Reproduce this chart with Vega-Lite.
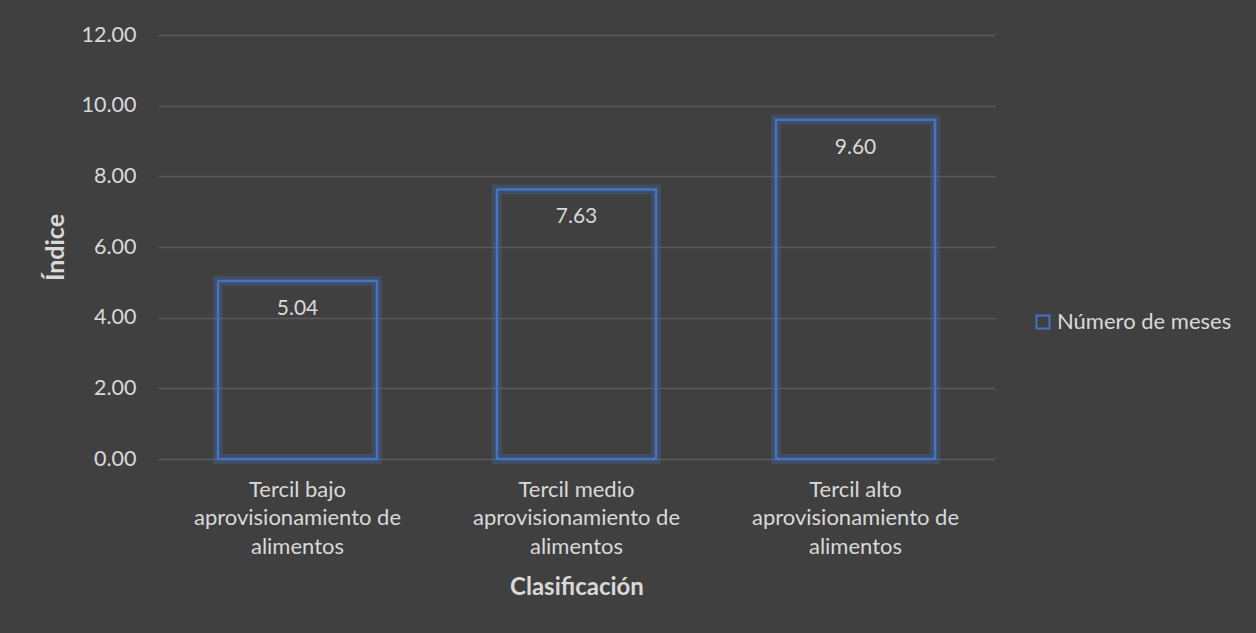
{
  "$schema": "https://vega.github.io/schema/vega-lite/v6.json",
  "width": 837,
  "height": 424,
  "autosize": {"type": "none"},
  "padding": {"left": 158, "top": 35, "right": 261, "bottom": 174},
  "background": "#404040",
  "config": {
    "view": {"stroke": null},
    "font": "Lato",
    "axis": {"labelColor": "#d9d9d9", "titleColor": "#d9d9d9", "labelFont": "Lato", "titleFont": "Lato"},
    "legend": {"labelColor": "#d9d9d9", "labelFont": "Lato"}
  },
  "data": {
    "values": [
      {"cat": "Tercil bajo aprovisionamiento de alimentos", "value": 5.04, "serie": "Número de meses"},
      {"cat": "Tercil medio aprovisionamiento de alimentos", "value": 7.63, "serie": "Número de meses"},
      {"cat": "Tercil alto aprovisionamiento de alimentos", "value": 9.60, "serie": "Número de meses"}
    ]
  },
  "encoding": {
    "x": {
      "field": "cat", "type": "nominal", "sort": null,
      "scale": {"paddingInner": 0.43, "paddingOuter": 0.215},
      "axis": {
        "title": "Clasificación", "titleFontSize": 24, "titleFontWeight": "bold", "titleY": 128, "titleBaseline": "middle",
        "labelAngle": 0, "labelFontSize": 22, "labelPadding": 20, "labelLineHeight": 28.5, "labelLimit": 400,
        "labelExpr": "[slice(datum.label, 0, indexof(datum.label, ' aprov')), 'aprovisionamiento de', 'alimentos']",
        "domain": false, "ticks": false, "labelBaseline": "top"
      }
    },
    "y": {
      "field": "value", "type": "quantitative",
      "scale": {"domain": [0, 12]},
      "axis": {
        "title": "Índice", "titleFontSize": 25, "titleFontWeight": "bold", "titleX": -103, "titleBaseline": "middle",
        "values": [0, 2, 4, 6, 8, 10, 12], "format": ".2f",
        "labelFontSize": 21.5, "labelPadding": 22,
        "domain": false, "ticks": false, "grid": true, "gridColor": "#5a5a5a", "gridWidth": 1.3
      }
    }
  },
  "layer": [
    {
      "mark": {"type": "bar", "fill": "#404040", "fillOpacity": 0, "stroke": "#4472C4", "strokeWidth": 10, "strokeOpacity": 0.25},
      "encoding": {}
    },
    {
      "mark": {"type": "bar", "fill": "#404040", "fillOpacity": 0, "strokeWidth": 2.5},
      "encoding": {
        "stroke": {
          "field": "serie", "type": "nominal",
          "scale": {"range": ["#4472C4"]},
          "legend": {
            "title": null, "orient": "none", "legendX": 874, "legendY": 276,
            "symbolType": "square", "symbolSize": 170, "symbolStrokeWidth": 2, "symbolFillColor": "transparent",
            "labelFontSize": 22, "labelOffset": 3, "labelLimit": 400
          }
        }
      }
    },
    {
      "mark": {"type": "text", "baseline": "middle", "dy": 28, "fontSize": 21, "color": "#d9d9d9"},
      "encoding": {"text": {"field": "value", "type": "quantitative", "format": ".2f"}}
    }
  ]
}
